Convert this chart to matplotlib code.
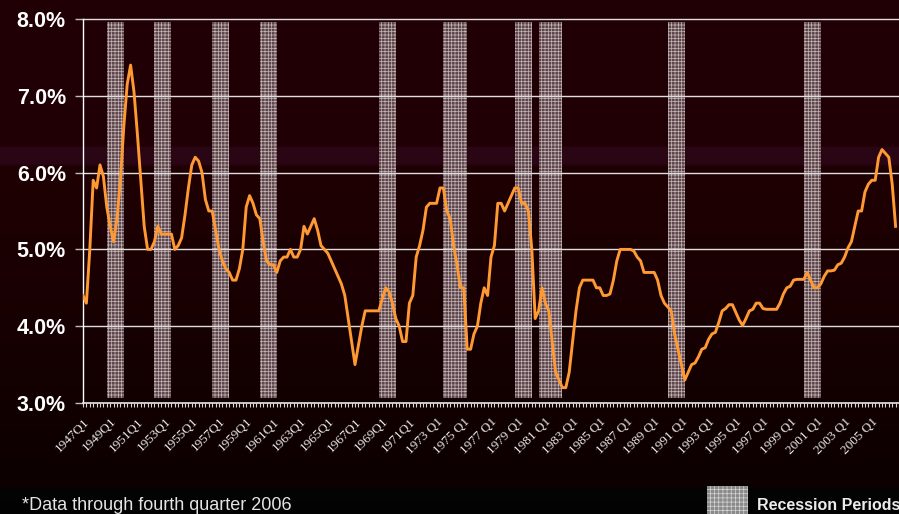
import numpy as np
import matplotlib
matplotlib.use('Agg')
import matplotlib.pyplot as plt
from matplotlib.patches import Rectangle
from matplotlib.ticker import MultipleLocator
from matplotlib.transforms import ScaledTranslation

# Quarterly series, 1947Q1 - 2006Q4 (percent)
quarters = [f'{y}Q{q}' for y in range(1947, 2007) for q in range(1, 5)]
share = [
    4.4, 4.3, 5.0, 5.9, 5.8, 6.1, 5.95, 5.55, 5.3, 5.1,
    5.4, 5.9, 6.6, 7.15, 7.4, 7.05, 6.5, 5.9, 5.3, 5.0,
    5.0, 5.1, 5.3, 5.2, 5.2, 5.2, 5.2, 5.0, 5.05, 5.15,
    5.45, 5.8, 6.1, 6.2, 6.15, 6.0, 5.65, 5.5, 5.5, 5.25,
    5.0, 4.85, 4.75, 4.7, 4.6, 4.6, 4.75, 5.0, 5.55, 5.7,
    5.6, 5.45, 5.4, 5.1, 4.85, 4.8, 4.8, 4.7, 4.85, 4.9,
    4.9, 5.0, 4.9, 4.9, 5.0, 5.3, 5.2, 5.3, 5.4, 5.25,
    5.05, 5.0, 4.95, 4.85, 4.75, 4.65, 4.55, 4.4, 4.1, 3.8,
    3.5, 3.75, 4.0, 4.2, 4.2, 4.2, 4.2, 4.2, 4.35, 4.5,
    4.45, 4.3, 4.1, 4.0, 3.8, 3.8, 4.3, 4.4, 4.9, 5.05,
    5.25, 5.55, 5.6, 5.6, 5.6, 5.8, 5.8, 5.5, 5.4, 5.05,
    4.8, 4.5, 4.5, 3.7, 3.7, 3.9, 4.0, 4.3, 4.5, 4.4,
    4.9, 5.05, 5.6, 5.6, 5.5, 5.6, 5.7, 5.8, 5.8, 5.6,
    5.6, 5.5, 5.0, 4.1, 4.2, 4.5, 4.3, 4.2, 3.8, 3.4,
    3.3, 3.2, 3.2, 3.4, 3.8, 4.2, 4.5, 4.6, 4.6, 4.6,
    4.6, 4.5, 4.5, 4.4, 4.4, 4.42, 4.6, 4.85, 5.0, 5.0,
    5.0, 5.0, 4.98, 4.9, 4.85, 4.7, 4.7, 4.7, 4.7, 4.6,
    4.4, 4.3, 4.25, 4.2, 3.9, 3.7, 3.5, 3.3, 3.4, 3.5,
    3.52, 3.6, 3.7, 3.72, 3.83, 3.9, 3.92, 4.05, 4.2, 4.23,
    4.28, 4.28, 4.18, 4.08, 4.01, 4.1, 4.2, 4.22, 4.3, 4.3,
    4.23, 4.22, 4.22, 4.22, 4.22, 4.3, 4.42, 4.5, 4.52, 4.6,
    4.61, 4.61, 4.61, 4.7, 4.6, 4.5, 4.5, 4.55, 4.65, 4.72,
    4.72, 4.73, 4.8, 4.82, 4.9, 5.02, 5.1, 5.3, 5.5, 5.5,
    5.75, 5.85, 5.9, 5.9, 6.2, 6.3, 6.25, 6.2, 5.85, 5.3,
]

# shaded recession periods
rec_start = ['1948Q4', '1952Q2', '1956Q3', '1960Q1', '1968Q4',
             '1973Q3', '1978Q4', '1980Q3', '1990Q1', '2000Q1']
rec_end = ['1950Q1', '1953Q3', '1957Q4', '1961Q2', '1970Q1',
           '1975Q2', '1980Q1', '1982Q2', '1991Q2', '2001Q2']

tick_labels = ['1947Q1', '1949Q1', '1951Q1', '1953Q1', '1955Q1', '1957Q1',
               '1959Q1', '1961Q1', '1963Q1', '1965Q1', '1967Q1', '1969Q1',
               '1971Q1', '1973 Q1', '1975 Q1', '1977 Q1', '1979 Q1', '1981 Q1',
               '1983 Q1', '1985 Q1', '1987 Q1', '1989 Q1', '1991 Q1', '1993 Q1',
               '1995 Q1', '1997 Q1', '1999 Q1', '2001 Q1', '2003 Q1', '2005 Q1']
y_ticks = [3.0, 4.0, 5.0, 6.0, 7.0, 8.0]

plt.rcParams['hatch.linewidth'] = 0.5
sans = 'Liberation Sans'

W, H = 899, 514
fig = plt.figure(figsize=(W / 100, H / 100), dpi=100)

# background: dark maroon fading to black, black footer strip
rows = np.arange(H)
stop_rows = [0, 145, 147, 163, 166, 300, 487, 488, H]
stop_cols = np.array([[32, 0, 4], [32, 0, 4], [42, 5, 20], [42, 5, 20], [31, 0, 3],
                      [25, 0, 2], [12, 0, 0], [4, 4, 4], [2, 2, 2]]) / 255
grad = np.stack([np.interp(rows, stop_rows, stop_cols[:, k]) for k in range(3)], axis=-1)
bg = fig.add_axes([0, 0, 1, 1], zorder=-10)
bg.imshow(grad[:, None, :], aspect='auto', extent=[0, 1, 0, 1])
bg.axis('off')

ax = fig.add_axes([83 / W, 111 / H, 816 / W, 384 / H])
ax.set_facecolor('none')
x = np.arange(len(share))

for s, e in zip(rec_start, rec_end):
    ax.axvspan(quarters.index(s), quarters.index(e), ymin=0.013, ymax=0.992,
               facecolor='#5e474c', edgecolor='#c4b4b6', hatch='+++++',
               linewidth=0, zorder=1)

for v in y_ticks[1:]:
    ax.axhline(v, color='#dedede', lw=1.0, clip_on=False, zorder=2)

ax.plot(x, share, color='#ff9933', lw=2.1, zorder=3, solid_joinstyle='round')

ax.set_xlim(0, 240)
ax.set_ylim(3, 8)
for side in ['top', 'right']:
    ax.spines[side].set_visible(False)
ax.spines['left'].set_color('white')
ax.spines['bottom'].set_color('#e8e8e8')
ax.spines['left'].set_linewidth(1.0)
ax.spines['bottom'].set_linewidth(1.2)

ax.set_yticks(y_ticks)
ax.set_yticklabels([f'{v:.1f}%' for v in y_ticks], fontweight='bold',
                   fontsize=15.5, color='white', family=sans)
ax.tick_params(axis='y', length=5.8, width=1, color='#bdbdbd', pad=6.5)

ax.set_xticks(x[::8])
ax.set_xticklabels(tick_labels, rotation=45, ha='right', va='top',
                   rotation_mode='anchor', fontsize=9.5, color='#ececec',
                   family='Liberation Serif')
shift = ScaledTranslation(-4 / 100, 0, fig.dpi_scale_trans)
for lbl in ax.get_xticklabels():
    lbl.set_transform(lbl.get_transform() + shift)
ax.xaxis.set_minor_locator(MultipleLocator(1))
ax.tick_params(axis='x', which='both', length=3, width=0.8, color='#d8d8d8', pad=6)

fig.text(22 / W, 4.5 / H, '*Data through fourth quarter 2006', fontsize=13,
         color='#e4e4e4', family=sans, va='baseline')
fig.patches.append(Rectangle((707 / W, 0), 41 / W, 28 / H, transform=fig.transFigure,
                             facecolor='#8a8a8a', edgecolor='#d6d6d6', hatch='++++',
                             linewidth=0))
fig.text(757 / W, 4.5 / H, 'Recession Periods', fontsize=11.5, fontweight='bold',
         color='#ececec', family=sans, va='baseline')

fig.savefig('out.png', dpi=100, facecolor='black')
